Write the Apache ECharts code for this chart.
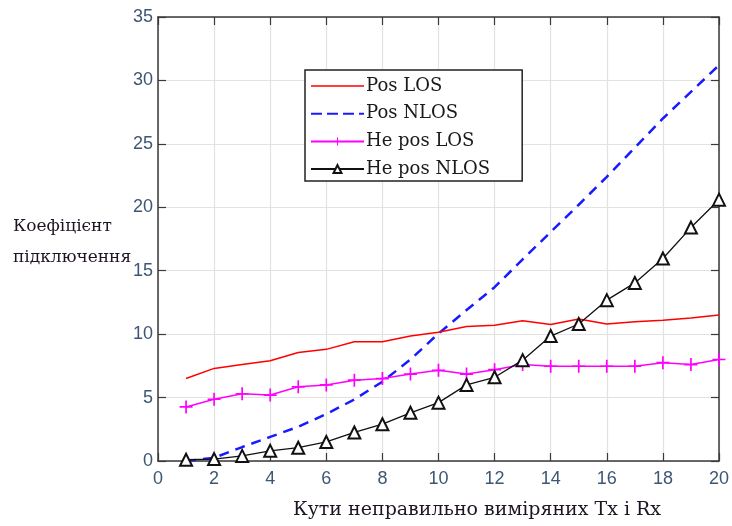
<!DOCTYPE html>
<html>
<head>
<meta charset="utf-8">
<script src="https://cdn.jsdelivr.net/npm/echarts@6/dist/echarts.min.js"></script>
<style>
  html, body { margin: 0; padding: 0; background: #ffffff; }
  #chart { width: 732px; height: 526px; }
</style>
</head>
<body>
<div id="chart"></div>
<script>
// Number of wrongly measured Tx/Rx angles
const angles = [1, 2, 3, 4, 5, 6, 7, 8, 9, 10, 11, 12, 13, 14, 15, 16, 17, 18, 19, 20];

// Connection coefficient per scenario
const posLOS    = [6.5, 7.3, 7.6, 7.9, 8.55, 8.8, 9.4, 9.4, 9.85, 10.15, 10.6, 10.7, 11.05, 10.76, 11.2, 10.8, 10.97, 11.1, 11.28, 11.5];
const posNLOS   = [0.0, 0.25, 1.1, 1.9, 2.7, 3.7, 4.85, 6.25, 8.0, 10.05, 11.9, 13.7, 15.9, 18.05, 20.2, 22.4, 24.7, 27.0, 29.1, 31.2];
const nePosLOS  = [4.26, 4.87, 5.3, 5.2, 5.85, 6.0, 6.37, 6.5, 6.85, 7.15, 6.85, 7.2, 7.6, 7.47, 7.47, 7.47, 7.47, 7.75, 7.6, 8.0];
const nePosNLOS = [0.1, 0.15, 0.4, 0.8, 1.05, 1.5, 2.25, 2.9, 3.8, 4.6, 6.0, 6.6, 7.95, 9.85, 10.8, 12.68, 14.04, 15.96, 18.4, 20.6];

const seriesNames = ['Pos LOS', 'Pos NLOS', 'He pos LOS', 'He pos NLOS'];
const xTitle = 'Кути неправильно виміряних Tx і Rx';
const yTitle = 'Коефіцієнт\nпідключення';

const pairs = ys => angles.map((x, i) => [x, ys[i]]);

// filled plus-sign marker
const plusPath = 'path://M8.7,0 H11.3 V8.7 H20 V11.3 H11.3 V20 H8.7 V11.3 H0 V8.7 H8.7 Z';
// legend keys drawn as plain line swatches (solid and dashed)
const solidKey = 'path://M0,0 H53 V1.6 H0 Z';
const dashedKey = 'path://M0,0 H11 V2 H0 Z M16,0 H27 V2 H16 Z M32,0 H43 V2 H32 Z M48,0 H53 V2 H48 Z';

const tickColor = '#3e5673';
const frame = '#3a3a3a';

const chart = echarts.init(document.getElementById('chart'), null, { renderer: 'canvas' });

const axisCommon = {
  axisLine: { show: true, onZero: false, lineStyle: { color: frame, width: 1.5 } },
  axisTick: { show: true, inside: true, length: 8, lineStyle: { color: frame, width: 1.2 } }
};
const tickFont = { color: tickColor, fontFamily: 'Liberation Sans, Arial, sans-serif', fontSize: 18 };

chart.setOption({
  animation: false,
  backgroundColor: '#ffffff',
  grid: { left: 158, right: 10, top: 17, bottom: 65, containLabel: false },
  xAxis: [
    Object.assign({
      type: 'value', min: 0, max: 20, interval: 2, position: 'bottom',
      axisLabel: Object.assign({ margin: 9 }, tickFont),
      splitLine: { show: true, lineStyle: { color: '#e2e2e2', width: 1.2 } }
    }, axisCommon),
    Object.assign({
      type: 'value', min: 0, max: 20, interval: 2, position: 'top',
      axisLabel: { show: false }, splitLine: { show: false }
    }, axisCommon)
  ],
  yAxis: [
    Object.assign({
      type: 'value', min: 0, max: 35, interval: 5, position: 'left',
      axisLabel: Object.assign({ margin: 5 }, tickFont),
      splitLine: { show: true, lineStyle: { color: '#e2e2e2', width: 1.2 } }
    }, axisCommon),
    Object.assign({
      type: 'value', min: 0, max: 35, interval: 5, position: 'right',
      axisLabel: { show: false }, splitLine: { show: false }
    }, axisCommon)
  ],
  legend: {
    orient: 'vertical',
    left: 305, top: 70,
    padding: [7, 32, 3, 5],
    itemWidth: 53, itemHeight: 10, itemGap: 9.7,
    backgroundColor: '#ffffff',
    borderColor: '#222222', borderWidth: 1.5, borderRadius: 0,
    textStyle: { fontFamily: 'DejaVu Serif, serif', fontSize: 18, color: '#1a1a1a', padding: [0, 0, 0, -3] },
    data: [
      { name: seriesNames[0], icon: solidKey },
      { name: seriesNames[1], icon: dashedKey },
      { name: seriesNames[2] },
      { name: seriesNames[3] }
    ]
  },
  series: [
    {
      name: seriesNames[0], type: 'line', data: pairs(posLOS),
      symbol: 'none', lineStyle: { color: '#ff0000', width: 1.5 }, itemStyle: { color: '#ff0000' }, z: 3
    },
    {
      name: seriesNames[1], type: 'line', data: pairs(posNLOS),
      symbol: 'none', lineStyle: { color: '#1a1aff', width: 2.5, type: [10, 7] }, itemStyle: { color: '#1a1aff' }, z: 2
    },
    {
      name: seriesNames[2], type: 'line', data: pairs(nePosLOS),
      symbol: plusPath, symbolSize: 13, showSymbol: true,
      lineStyle: { color: '#ff00ff', width: 1.5 }, itemStyle: { color: '#ff00ff' }, z: 4
    },
    {
      name: seriesNames[3], type: 'line', data: pairs(nePosNLOS),
      symbol: 'emptyTriangle', symbolSize: 12, showSymbol: true,
      lineStyle: { color: '#111111', width: 1.3 }, itemStyle: { color: '#111111', borderWidth: 1.4 }, z: 5
    }
  ],
  graphic: [
    {
      type: 'text', left: 13, top: 211,
      style: { text: yTitle, fontFamily: 'DejaVu Serif, serif', fontSize: 17, lineHeight: 31, fill: '#1e1424' }
    },
    {
      type: 'text', x: 477, y: 510,
      style: { text: xTitle, fontFamily: 'DejaVu Serif, serif', fontSize: 19, fill: '#1e1424', align: 'center', verticalAlign: 'middle' }
    }
  ]
});
</script>
</body>
</html>
